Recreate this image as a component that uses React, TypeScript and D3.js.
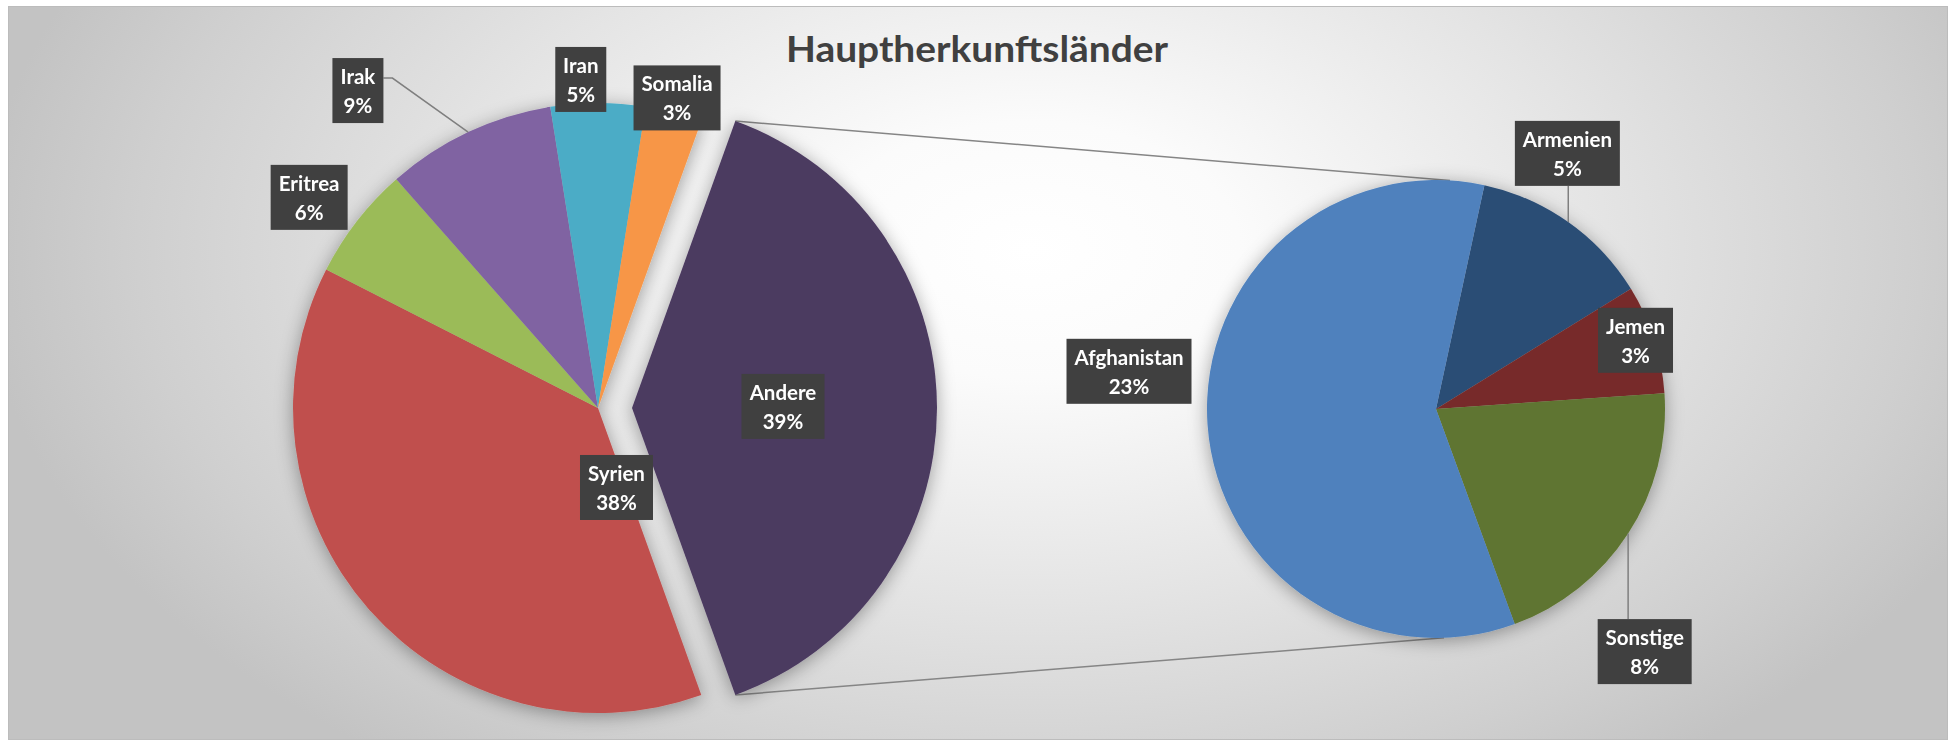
import React from "react";
import * as d3 from "d3";

// ---------- DATA ----------
const TITLE = "Hauptherkunftsländer";
const mainNames = ["Syrien", "Eritrea", "Irak", "Iran", "Somalia"];
const mainValues = [38, 6, 9, 5, 3];
const subNames = ["Armenien", "Jemen", "Sonstige", "Afghanistan"];
const subValues = [5, 3, 8, 23];
const otherName = "Andere";

// ---------- STYLE / LAYOUT ----------
const W = 1955, H = 741;
const COLORS: Record<string, string> = {
  Andere: "#4c3a60",
  Syrien: "#c0504d",
  Eritrea: "#9bbb59",
  Irak: "#8064a2",
  Iran: "#4bacc6",
  Somalia: "#f79646",
  Armenien: "#2c4d75",
  Jemen: "#772c2a",
  Sonstige: "#5f7530",
  Afghanistan: "#4f81bd",
};
const C1 = { x: 598, y: 408, r: 305 };
const EXPLODE = 34;
const C2 = { x: 1436, y: 409, r: 229 };
const SUB_ROT = 12.2; // degrees
// label placement: polar offset (deg, px) from pie centre
const LABEL_POS: Record<string, { a: number; d: number; leader?: string }> = {
  Irak: { a: 322.9, d: 398, leader: "elbow" },
  Iran: { a: 357, d: 329 },
  Somalia: { a: 14.3, d: 320 },
  Eritrea: { a: 306.1, d: 357.5 },
  Andere: { a: 89.4, d: 151 },
  Syrien: { a: 166.9, d: 81.6 },
  Armenien: { a: 27.2, d: 287.4, leader: "vertical" },
  Jemen: { a: 71.0, d: 211 },
  Afghanistan: { a: 277.0, d: 309.3 },
  Sonstige: { a: 139.3, d: 320, leader: "vertical" },
};
const FONT = "Lato, 'Open Sans', 'DejaVu Sans', sans-serif";
const LABEL_FS = 20.5;
const BOX_H = 65;

const rad = (deg: number) => (deg * Math.PI) / 180;
const polar = (cx: number, cy: number, a: number, d: number) => [
  cx + d * Math.sin(rad(a)),
  cy - d * Math.cos(rad(a)),
];

let measureCtx: CanvasRenderingContext2D | null = null;
function textWidth(s: string) {
  if (!measureCtx) measureCtx = document.createElement("canvas").getContext("2d");
  if (!measureCtx) return s.length * 10;
  measureCtx.font = `bold ${LABEL_FS}px Lato`;
  return measureCtx.measureText(s).width;
}

export default function App() {
  const total = d3.sum(mainValues) + d3.sum(subValues);
  const otherValue = d3.sum(subValues);
  const mainData = [
    { name: otherName, value: otherValue },
    ...mainNames.map((n, i) => ({ name: n, value: mainValues[i] })),
  ];
  const subData = subNames.map((n, i) => ({ name: n, value: subValues[i] }));

  const start1 = Math.PI / 2 - (otherValue / total) * Math.PI;
  const pie1 = d3
    .pie<{ name: string; value: number }>()
    .sort(null)
    .value((d) => d.value)
    .startAngle(start1)
    .endAngle(start1 + 2 * Math.PI);
  const arcs1 = pie1(mainData);

  const pie2 = d3
    .pie<{ name: string; value: number }>()
    .sort(null)
    .value((d) => d.value)
    .startAngle(rad(SUB_ROT))
    .endAngle(rad(SUB_ROT) + 2 * Math.PI);
  const arcs2 = pie2(subData);

  const arc1 = d3.arc<any>().innerRadius(0).outerRadius(C1.r);
  const arc2 = d3.arc<any>().innerRadius(0).outerRadius(C2.r);

  const pct = (v: number) => `${Math.round((v / total) * 100)}%`;

  // exploded centre of "Andere"
  const andere = arcs1[0];
  const midA = (andere.startAngle + andere.endAngle) / 2;
  const ex = C1.x + EXPLODE * Math.sin(midA);
  const ey = C1.y - EXPLODE * Math.cos(midA);

  // connector lines
  const topA = [ex + C1.r * Math.sin(andere.startAngle), ey - C1.r * Math.cos(andere.startAngle)];
  const botA = [ex + C1.r * Math.sin(andere.endAngle), ey - C1.r * Math.cos(andere.endAngle)];
  const topB = polar(C2.x, C2.y, 3.5, C2.r);
  const botB = polar(C2.x, C2.y, 178, C2.r);

  const labels: any[] = [];
  arcs1.forEach((a) => {
    const lp = LABEL_POS[a.data.name];
    const cx0 = a.index === 0 ? ex : C1.x;
    const cy0 = a.index === 0 ? ey : C1.y;
    const [lx, ly] = polar(cx0, cy0, lp.a, lp.d);
    const mid = ((a.startAngle + a.endAngle) / 2) * 180 / Math.PI;
    labels.push({ name: a.data.name, value: a.data.value, lx, ly, leader: lp.leader, anchor: polar(cx0, cy0, mid, C1.r) });
  });
  arcs2.forEach((a) => {
    const lp = LABEL_POS[a.data.name];
    const [lx, ly] = polar(C2.x, C2.y, lp.a, lp.d);
    const mid = ((a.startAngle + a.endAngle) / 2) * 180 / Math.PI;
    labels.push({ name: a.data.name, value: a.data.value, lx, ly, leader: lp.leader, anchor: polar(C2.x, C2.y, mid, C2.r) });
  });

  return (
    <svg
      width={W}
      height={H}
      style={{ position: "absolute", left: 0, top: 0 }}
      fontFamily={FONT}
    >
      <defs>
        <radialGradient
          id="bg"
          gradientUnits="userSpaceOnUse"
          cx={0}
          cy={0}
          r={1}
          gradientTransform="translate(1030,250) scale(1050,640)"
        >
          <stop offset="0" stopColor="#ffffff" />
          <stop offset="0.2" stopColor="#fbfbfb" />
          <stop offset="0.55" stopColor="#e4e4e4" />
          <stop offset="0.85" stopColor="#cfcfcf" />
          <stop offset="1" stopColor="#c3c3c3" />
        </radialGradient>
        <filter id="sh" x="-20%" y="-20%" width="140%" height="140%">
          <feDropShadow dx="0" dy="3" stdDeviation="9" floodColor="#000" floodOpacity="0.35" />
        </filter>
      </defs>
      <rect x={0} y={0} width={W} height={H} fill="#ffffff" />
      <rect x={8.5} y={6.5} width={1939} height={733} fill="url(#bg)" stroke="#bcbcbc" strokeWidth={1} />

      <text x={977} y={62} textAnchor="middle" fontSize={36} fontWeight="bold" fill="#404040" textLength={382} lengthAdjust="spacingAndGlyphs">
        {TITLE}
      </text>

      {/* connector lines */}
      <line x1={topA[0]} y1={topA[1]} x2={topB[0]} y2={topB[1]} stroke="#858585" strokeWidth={1.5} />
      <line x1={botA[0]} y1={botA[1]} x2={botB[0]} y2={botB[1]} stroke="#858585" strokeWidth={1.5} />

      <g filter="url(#sh)">
        {arcs1.map((a, i) => (
          <path
            key={a.data.name}
            d={arc1(a) || ""}
            fill={COLORS[a.data.name]}
            transform={i === 0 ? `translate(${ex},${ey})` : `translate(${C1.x},${C1.y})`}
          />
        ))}
      </g>
      <g filter="url(#sh)" transform={`translate(${C2.x},${C2.y})`}>
        {arcs2.map((a) => (
          <path key={a.data.name} d={arc2(a) || ""} fill={COLORS[a.data.name]} />
        ))}
      </g>

      {/* labels */}
      {labels.map((l) => {
        const t1 = l.name;
        const t2 = pct(l.value);
        const bw = Math.round(Math.max(textWidth(t1), textWidth(t2)) + 16);
        const bx = l.lx - bw / 2;
        const by = l.ly - BOX_H / 2;
        let leader = null;
        if (l.leader === "elbow") {
          const yy = by + 20;
          leader = (
            <polyline
              points={`${bx + bw},${yy} ${bx + bw + 9},${yy} ${l.anchor[0]},${l.anchor[1]}`}
              fill="none"
              stroke="#7f7f7f"
              strokeWidth={1.5}
            />
          );
        } else if (l.leader === "vertical") {
          const xx = Math.min(Math.max(l.anchor[0], bx + 5), bx + bw - 5);
          const yEdge = l.anchor[1] > l.ly ? by + BOX_H : by;
          leader = <line x1={xx} y1={yEdge} x2={xx} y2={l.anchor[1]} stroke="#7f7f7f" strokeWidth={1.5} />;
        }
        return (
          <g key={l.name}>
            {leader}
            <rect x={bx} y={by} width={bw} height={BOX_H} fill="#404040" />
            <text x={l.lx} y={by + 26} textAnchor="middle" fontSize={LABEL_FS} fontWeight="bold" fill="#ffffff">
              {t1}
            </text>
            <text x={l.lx} y={by + 55} textAnchor="middle" fontSize={LABEL_FS} fontWeight="bold" fill="#ffffff">
              {t2}
            </text>
          </g>
        );
      })}
    </svg>
  );
}
